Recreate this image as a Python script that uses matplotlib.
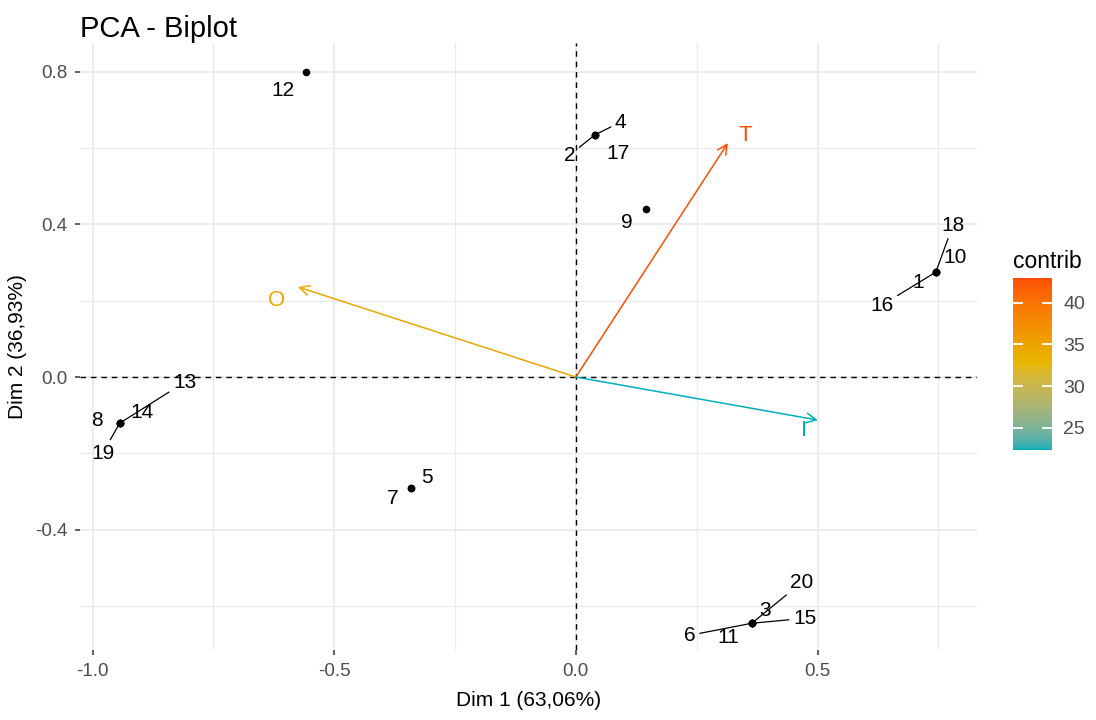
import matplotlib
matplotlib.use("Agg")
import matplotlib.pyplot as plt
import numpy as np
from matplotlib.colors import ListedColormap, Normalize, to_rgb
from matplotlib.cm import ScalarMappable

plt.rcParams['font.family'] = ['Liberation Sans', 'DejaVu Sans']

# ---------------- data ----------------
ind_labels = [str(i) for i in range(1, 21)]
ind_x = [0.745, 0.039, 0.364, 0.039, -0.341, 0.364, -0.341, -0.944, 0.145, 0.745,
         0.364, -0.559, -0.944, -0.944, 0.364, 0.745, 0.039, 0.745, -0.944, 0.364]
ind_y = [0.275, 0.634, -0.645, 0.634, -0.291, -0.645, -0.291, -0.121, 0.440, 0.275,
         -0.645, 0.799, -0.121, -0.121, -0.645, 0.275, 0.634, 0.275, -0.121, -0.645]

var_labels = ['T', 'O', 'I']
var_x = [0.3145, -0.575, 0.5007]
var_y = [0.613, 0.236, -0.1127]
var_contrib = [43.0, 34.7, 22.3]

x_ticks = [-1.0, -0.5, 0.0, 0.5]
y_ticks = [-0.4, 0.0, 0.4, 0.8]
cbar_ticks = [25, 30, 35, 40]
gradient_cols = ['#00AFBB', '#E7B800', '#FC4E07']

title = "PCA - Biplot"
xlabel = "Dim 1 (63,06%)"
ylabel = "Dim 2 (36,93%)"

# ---------------- layout (label offsets in pixels) ----------------
ind_offsets = {
    '1': (-18, -10), '2': (-25, -20), '3': (13, 13), '4': (26, 13), '5': (16, 11),
    '6': (-62, -12), '7': (-18, -10), '8': (-23, 3), '9': (-19, -13), '10': (19, 15),
    '11': (-24, -14), '12': (-23, -18), '13': (65, 41), '14': (22, 11), '15': (53, 5),
    '16': (-54, -33), '17': (23, -18), '18': (17, 47), '19': (-17, -30), '20': (50, 41),
}
with_segment = {'2', '4', '13', '16', '18', '19', '6', '15', '20'}
var_offsets = {'T': (17, 8), 'O': (-21, -14), 'I': (-14, -10)}


# ---------------- Lab-space gradient (like ggplot's scale_colour_gradientn) -------------
def srgb_to_lab(rgb):
    rgb = np.asarray(rgb, float)
    lin = np.where(rgb <= 0.04045, rgb / 12.92, ((rgb + 0.055) / 1.055) ** 2.4)
    M = np.array([[0.4124, 0.3576, 0.1805], [0.2126, 0.7152, 0.0722], [0.0193, 0.1192, 0.9505]])
    xyz = lin @ M.T / np.array([0.95047, 1.0, 1.08883])
    f = np.where(xyz > 0.008856, np.cbrt(xyz), 7.787 * xyz + 16 / 116)
    return np.stack([116 * f[..., 1] - 16, 500 * (f[..., 0] - f[..., 1]), 200 * (f[..., 1] - f[..., 2])], -1)


def lab_to_srgb(lab):
    lab = np.asarray(lab, float)
    fy = (lab[..., 0] + 16) / 116
    fx = fy + lab[..., 1] / 500
    fz = fy - lab[..., 2] / 200
    f = np.stack([fx, fy, fz], -1)
    xyz = np.where(f ** 3 > 0.008856, f ** 3, (f - 16 / 116) / 7.787) * np.array([0.95047, 1.0, 1.08883])
    Minv = np.linalg.inv(np.array([[0.4124, 0.3576, 0.1805], [0.2126, 0.7152, 0.0722], [0.0193, 0.1192, 0.9505]]))
    lin = np.clip(xyz @ Minv.T, 0, 1)
    return np.clip(np.where(lin <= 0.0031308, 12.92 * lin, 1.055 * lin ** (1 / 2.4) - 0.055), 0, 1)


labs = srgb_to_lab([to_rgb(c) for c in gradient_cols])
t = np.linspace(0, 1, 256)
pos = np.linspace(0, 1, len(gradient_cols))
lab_interp = np.stack([np.interp(t, pos, labs[:, k]) for k in range(3)], -1)
cmap = ListedColormap(lab_to_srgb(lab_interp))
norm = Normalize(vmin=min(var_contrib), vmax=max(var_contrib))

W, H = 1096, 720
fig = plt.figure(figsize=(W / 100, H / 100), dpi=100)
L, R, T_, B = 80, 977, 43, 650
ax = fig.add_axes([L / W, 1 - B / H, (R - L) / W, (B - T_) / H])

ax.set_xlim(-1.026, 0.830)
ax.set_ylim(-0.715, 0.875)

for s in ax.spines.values():
    s.set_visible(False)

# grid
grid_c = '#EBEBEB'
for v in [-0.75, -0.25, 0.25, 0.75]:
    ax.axvline(v, color=grid_c, lw=0.9, zorder=0)
for v in [-0.6, -0.2, 0.2, 0.6]:
    ax.axhline(v, color=grid_c, lw=0.9, zorder=0)
for v in x_ticks:
    ax.axvline(v, color=grid_c, lw=1.3, zorder=0)
for v in y_ticks:
    ax.axhline(v, color=grid_c, lw=1.3, zorder=0)

ax.axhline(0, color='black', lw=1.0, ls=(0, (4, 3.5)), zorder=1)
ax.axvline(0, color='black', lw=1.0, ls=(0, (4, 3.5)), zorder=1)

ax.set_xticks(x_ticks)
ax.set_xticklabels([f"{v:.1f}" for v in x_ticks])
ax.set_yticks(y_ticks)
ax.set_yticklabels([f"{v:.1f}" for v in y_ticks])
ax.tick_params(axis='both', length=3.5, width=1.1, color='#333333', pad=5.5,
               labelsize=13.5, labelcolor='#4D4D4D')

ax.set_xlabel(xlabel, fontsize=15, color='black', labelpad=8)
ax.set_ylabel(ylabel, fontsize=15, color='black', labelpad=6)
ax.set_title(title, fontsize=21, loc='left', x=0.0, pad=4, color='black')

# individuals
ax.scatter(ind_x, ind_y, s=30, color='black', zorder=4, linewidths=0)
for lab, x, y in zip(ind_labels, ind_x, ind_y):
    dx, dy = ind_offsets[lab]
    kw = dict(xy=(x, y), xytext=(dx, dy), textcoords='offset pixels',
              ha='center', va='center', fontsize=15, color='black', zorder=5)
    if lab in with_segment:
        kw['arrowprops'] = dict(arrowstyle='-', color='black', lw=0.9, shrinkA=1, shrinkB=2)
    ax.annotate(lab, **kw)

# variables
for lab, x, y, c in zip(var_labels, var_x, var_y, var_contrib):
    col = cmap(norm(c))
    ax.annotate('', xy=(x, y), xytext=(0, 0), zorder=3,
                arrowprops=dict(arrowstyle='->,head_length=0.7,head_width=0.35',
                                color=col, lw=1.1, shrinkA=0, shrinkB=0))
    dx, dy = var_offsets[lab]
    ax.annotate(lab, xy=(x, y), xytext=(dx, dy), textcoords='offset pixels',
                ha='center', va='center', fontsize=16, color=col, zorder=5)

# colorbar
cax = fig.add_axes([1013 / W, 1 - 450 / H, 39 / W, 172 / H])
sm = ScalarMappable(norm=norm, cmap=cmap)
cb = fig.colorbar(sm, cax=cax, ticks=cbar_ticks)
cb.outline.set_visible(False)
cax.yaxis.set_ticks_position('both')
cax.tick_params(axis='y', direction='in', length=7, width=1.3, color='white',
                labelsize=14, labelcolor='#4D4D4D', pad=8, labelright=True, labelleft=False)
fig.text(1013 / W, 1 - 262 / H, 'contrib', fontsize=16.5, ha='left', va='center', color='black')

fig.savefig('out.png', dpi=100, facecolor='white')
